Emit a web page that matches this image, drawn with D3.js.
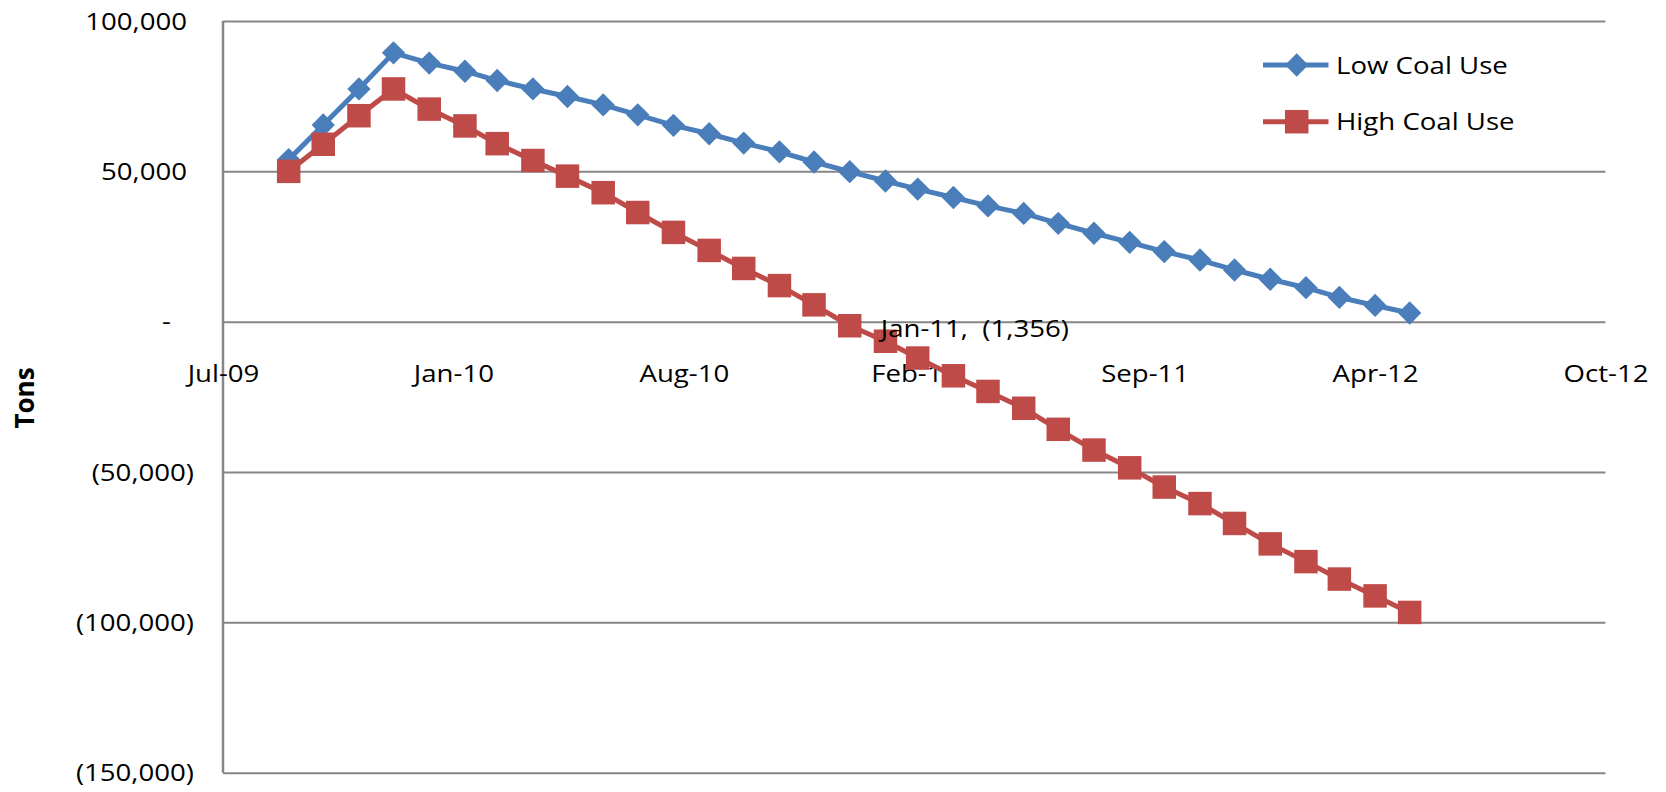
<!DOCTYPE html>
<html>
<head>
<meta charset="utf-8">
<script src="https://cdn.jsdelivr.net/npm/d3@7"></script>
<style>
  html, body { margin: 0; padding: 0; background: #ffffff; }
  svg { display: block; }
  text { font-family: "Open Sans", "Noto Sans", sans-serif; fill: #000; }
</style>
</head>
<body>
<svg id="chart" width="1666" height="792"></svg>
<script>
// ---------- data ----------
const months = [
  "2009-09-01","2009-10-01","2009-11-01","2009-12-01",
  "2010-01-01","2010-02-01","2010-03-01","2010-04-01","2010-05-01","2010-06-01",
  "2010-07-01","2010-08-01","2010-09-01","2010-10-01","2010-11-01","2010-12-01",
  "2011-01-01","2011-02-01","2011-03-01","2011-04-01","2011-05-01","2011-06-01",
  "2011-07-01","2011-08-01","2011-09-01","2011-10-01","2011-11-01","2011-12-01",
  "2012-01-01","2012-02-01","2012-03-01","2012-04-01","2012-05-01"
];
const lowCoalUse = [
  53900, 65400, 77400, 89400, 86000, 83300, 80200, 77400, 74900, 72100,
  68800, 65300, 62500, 59400, 56500, 53100, 49900, 46800, 44100, 41300,
  38500, 36000, 32700, 29400, 26400, 23300, 20500, 17200, 14100, 11300,
  8100, 5400, 2900
];
const highCoalUse = [
  50000, 59000, 68500, 77400, 70700, 65100, 59200, 53600, 48400, 42900,
  36300, 29700, 23700, 17700, 12000, 5600, -1356, -6500, -12100, -18000,
  -23200, -28800, -35800, -42700, -48600, -55000, -60500, -67100, -73900, -79800,
  -85600, -91200, -96700
];
const seriesNames = ["Low Coal Use", "High Coal Use"];
const xDomainDates = ["2009-07-06", "2012-10-18"];
const xTickDates = ["2009-07-06","2010-01-22","2010-08-10","2011-02-26","2011-09-14","2012-04-01","2012-10-18"];
const yTickValues = [-150000, -100000, -50000, 0, 50000, 100000];
const yTickLabels = ["(150,000)", "(100,000)", "(50,000)", "-", "50,000", "100,000"];
const yAxisTitle = "Tons";
const annotation = { date: "2011-01-01", value: -1356, text: "Jan-11,  (1,356)" };

// ---------- layout ----------
const plotLeft = 223, plotRight = 1605.5, plotTop = 21, plotBottom = 772.7;
const SX = 1.15;             // horizontal text stretch of the original rendering
const FS = 24;
const gridColor = "#868686";
const colors = ["#4a7ebb", "#be4b48"];

const parse = d3.utcParse("%Y-%m-%d");
const svg = d3.select("#chart");

const x = d3.scaleUtc().domain(xDomainDates.map(parse)).range([plotLeft, plotRight]);
const y = d3.scaleLinear().domain([-150000, 100000]).range([plotBottom, plotTop]);

// gridlines
const grid = svg.append("g").attr("transform", `translate(${plotLeft},0)`)
  .call(d3.axisLeft(y).tickValues(yTickValues).tickSize(-(plotRight - plotLeft)).tickFormat(""));
grid.select(".domain").remove();
grid.selectAll(".tick line").attr("stroke", gridColor).attr("stroke-width", 2);

// y axis line
svg.append("line").attr("x1", plotLeft).attr("x2", plotLeft).attr("y1", plotTop).attr("y2", plotBottom)
  .attr("stroke", gridColor).attr("stroke-width", 2.5);

// y axis labels
const yAxis = svg.append("g").attr("transform", `translate(${plotLeft},0)`)
  .call(d3.axisLeft(y).tickValues(yTickValues).tickSize(0)
    .tickFormat(d => yTickLabels[yTickValues.indexOf(d)]));
yAxis.select(".domain").remove();
yAxis.selectAll(".tick text")
  .attr("x", 0).attr("dy", null).attr("y", 8)
  .style("font-size", FS + "px")
  .attr("text-anchor", "end")
  .attr("transform", function(d) {
    const lab = yTickLabels[yTickValues.indexOf(d)];
    let off = -29;
    if (lab === "-") off = -52;
    else if (lab[0] !== "(") off = -36;
    return `translate(${off},0) scale(${SX},1)`;
  });

// x axis labels (axis crosses at 0)
const xAxis = svg.append("g").attr("transform", `translate(0,${y(0)})`)
  .call(d3.axisBottom(x).tickValues(xTickDates.map(parse)).tickSize(0)
    .tickFormat(d3.utcFormat("%b-%y")));
xAxis.select(".domain").remove();
xAxis.selectAll(".tick text")
  .attr("y", 60).attr("dy", null)
  .style("font-size", FS + "px")
  .attr("transform", `scale(${SX},1)`);

// axis title
svg.append("text")
  .attr("transform", "translate(34,398) rotate(-90)")
  .attr("text-anchor", "middle")
  .style("font-size", "26px").style("font-weight", "bold")
  .text(yAxisTitle);

// series
const dates = months.map(parse);
const seriesData = [lowCoalUse, highCoalUse];
const line = d3.line().x(d => x(d[0])).y(d => y(d[1]));
const diamond = d3.symbol().type(d3.symbolSquare).size(16.5 * 16.5);
const square = d3.symbol().type(d3.symbolSquare).size(23.5 * 23.5);

seriesData.forEach((vals, si) => {
  const pts = dates.map((dt, i) => [dt, vals[i]]);
  const g = svg.append("g");
  g.append("path").datum(pts).attr("d", line)
    .attr("fill", "none").attr("stroke", colors[si]).attr("stroke-width", 5)
    .attr("stroke-linejoin", "round");
  g.selectAll("path.m").data(pts).join("path").attr("class", "m")
    .attr("d", si === 0 ? diamond : square)
    .attr("transform", d => `translate(${x(d[0])},${y(d[1])})` + (si === 0 ? " rotate(45)" : ""))
    .attr("fill", colors[si]);
});

// data label
svg.append("text")
  .attr("transform", `translate(${x(parse(annotation.date)) + 31},${y(annotation.value) + 11}) scale(${SX},1)`)
  .style("font-size", FS + "px").style("white-space", "pre")
  .text(annotation.text);

// legend
const legendRows = [65, 121.7];
seriesNames.forEach((name, si) => {
  const g = svg.append("g").attr("transform", `translate(1263,${legendRows[si]})`);
  g.append("line").attr("x1", 0).attr("x2", 65.5).attr("y1", 0).attr("y2", 0)
    .attr("stroke", colors[si]).attr("stroke-width", 5);
  g.append("path").attr("d", si === 0 ? diamond : square)
    .attr("transform", `translate(33.7,0)` + (si === 0 ? " rotate(45)" : ""))
    .attr("fill", colors[si]);
  g.append("text").attr("transform", `translate(73,8.5) scale(${SX},1)`)
    .style("font-size", FS + "px").text(name);
});
</script>
</body>
</html>
